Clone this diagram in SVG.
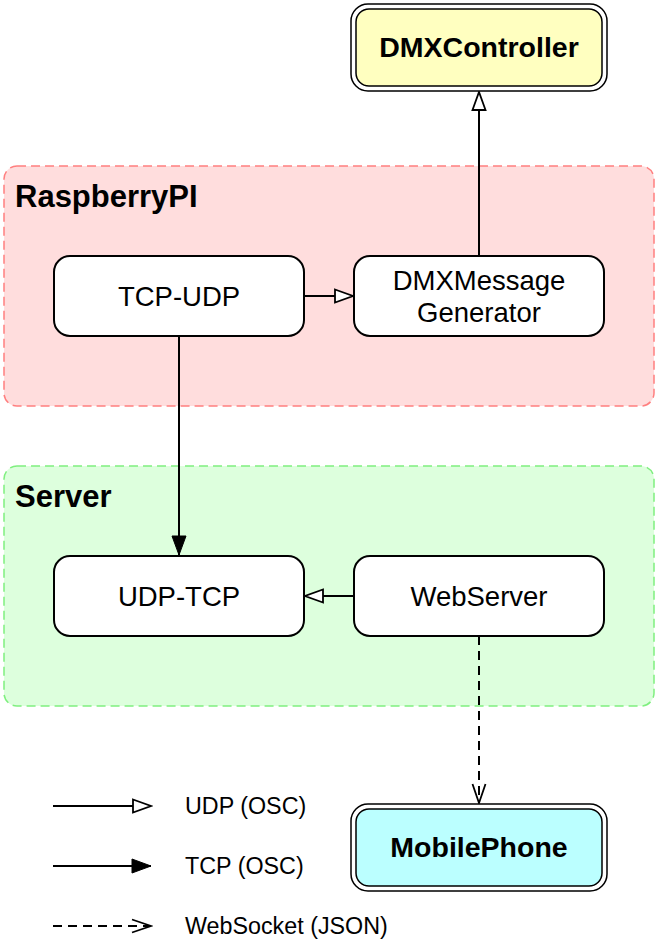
<svg xmlns="http://www.w3.org/2000/svg" width="658" height="952" viewBox="0 0 658 952">
<style>
.grp{stroke-width:1.5;stroke-dasharray:9 5}
.node{fill:#ffffff;stroke:#000;stroke-width:2}
.lbl{font-family:"Liberation Sans",Arial,sans-serif;font-size:27.5px;fill:#000;text-anchor:middle}
.bold{font-weight:bold;font-size:28.5px}
.glbl{font-family:"Liberation Sans",Arial,sans-serif;font-size:31px;font-weight:bold;fill:#000}
.leg{font-family:"Liberation Sans",Arial,sans-serif;font-size:23.3px;fill:#000}
.edge{stroke:#000;stroke-width:2;fill:none}
.dash{stroke-dasharray:9 6}
</style>
<defs>
<marker id="openTri" markerUnits="userSpaceOnUse" viewBox="-2 -2 22 17" markerWidth="22" markerHeight="17" refX="18" refY="6.5" orient="auto">
<path d="M0,0 L18,6.5 L0,13 Z" fill="#fff" stroke="#000" stroke-width="1.8"/>
</marker>
<marker id="fillTri" markerUnits="userSpaceOnUse" viewBox="-2 -2 23 18" markerWidth="23" markerHeight="18" refX="19" refY="7" orient="auto">
<path d="M0,0 L19,7 L0,14 Z" fill="#000" stroke="#000" stroke-width="1"/>
</marker>
<marker id="openV" markerUnits="userSpaceOnUse" viewBox="-2 -2 23 17" markerWidth="23" markerHeight="17" refX="19" refY="6.5" orient="auto">
<path d="M0,0 L19,6.5 L0,13" fill="none" stroke="#000" stroke-width="1.8"/>
</marker>
</defs>

<g id="group-raspberrypi">
<rect class="grp" x="4" y="166" width="650" height="240" rx="13" fill="#ffdddd" stroke="#ff7f7f"/>
<text class="glbl" x="15" y="207">RaspberryPI</text>
</g>
<g id="group-server">
<rect class="grp" x="4" y="466" width="650" height="240" rx="13" fill="#ddffdd" stroke="#7fef7f"/>
<text class="glbl" x="15" y="507">Server</text>
</g>

<g id="connectors">
<line class="edge" x1="479" y1="256" x2="479" y2="92" marker-end="url(#openTri)"/>
<line class="edge" x1="304" y1="296" x2="353" y2="296" marker-end="url(#openTri)"/>
<line class="edge" x1="179" y1="336" x2="179" y2="555" marker-end="url(#fillTri)"/>
<line class="edge" x1="354" y1="596" x2="305" y2="596" marker-end="url(#openTri)"/>
<line class="edge dash" x1="479" y1="636" x2="479" y2="803" marker-end="url(#openV)"/>
</g>

<g id="node-dmxcontroller">
<rect x="351" y="4" width="256" height="87" rx="17" fill="#fff" stroke="#000" stroke-width="1.5"/>
<rect x="356" y="9" width="246" height="77" rx="13" fill="#ffffc0" stroke="#000" stroke-width="1.5"/>
<text class="lbl bold" x="479" y="57">DMXController</text>
</g>
<g id="node-tcp-udp">
<rect class="node" x="54" y="256" width="250" height="80" rx="16"/>
<text class="lbl" x="179" y="306">TCP-UDP</text>
</g>
<g id="node-dmxmessagegenerator">
<rect class="node" x="354" y="256" width="250" height="80" rx="16"/>
<text class="lbl" x="479" y="290">DMXMessage</text>
<text class="lbl" x="479" y="322">Generator</text>
</g>
<g id="node-udp-tcp">
<rect class="node" x="54" y="556" width="250" height="80" rx="16"/>
<text class="lbl" x="179" y="606">UDP-TCP</text>
</g>
<g id="node-webserver">
<rect class="node" x="354" y="556" width="250" height="80" rx="16"/>
<text class="lbl" x="479" y="606">WebServer</text>
</g>
<g id="node-mobilephone">
<rect x="351" y="804" width="256" height="87" rx="17" fill="#fff" stroke="#000" stroke-width="1.5"/>
<rect x="356" y="809" width="246" height="77" rx="13" fill="#bbffff" stroke="#000" stroke-width="1.5"/>
<text class="lbl bold" x="479" y="857">MobilePhone</text>
</g>

<g id="legend">
<line class="edge" x1="53" y1="806" x2="151" y2="806" marker-end="url(#openTri)"/>
<text class="leg" x="185" y="814">UDP (OSC)</text>
<line class="edge" x1="53" y1="866" x2="151" y2="866" marker-end="url(#fillTri)"/>
<text class="leg" x="185" y="874">TCP (OSC)</text>
<line class="edge dash" x1="53" y1="926" x2="151" y2="926" marker-end="url(#openV)"/>
<text class="leg" x="185" y="934">WebSocket (JSON)</text>
</g>
</svg>
